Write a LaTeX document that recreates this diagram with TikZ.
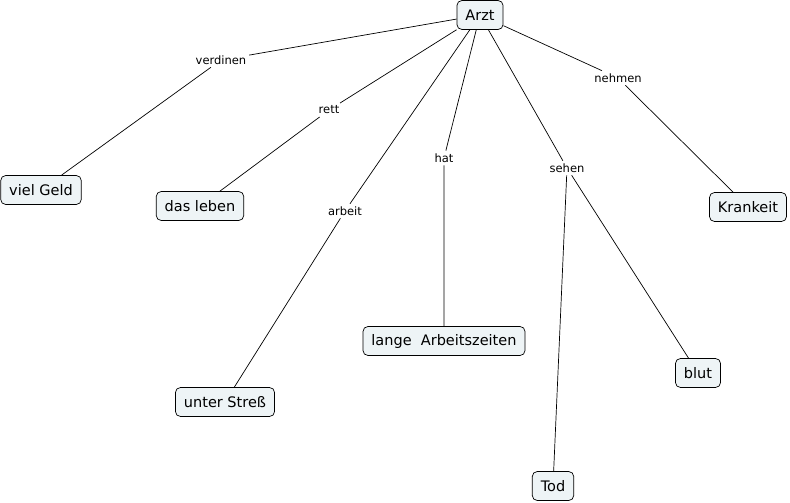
\documentclass[tikz,border=0pt]{standalone}
\usepackage{fontspec}
\setmainfont{DejaVu Sans}
\usetikzlibrary{positioning}

\definecolor{conceptfill}{RGB}{238,244,246}

\begin{document}
\begin{tikzpicture}[x=1pt,y=-1pt,line width=0.7pt,
  concept/.style={draw,rounded corners=5pt,fill=conceptfill,font=\fontsize{14.5}{17}\selectfont,
    minimum height=29pt,inner xsep=8.5pt},
  link/.style={fill=white,font=\fontsize{11.5}{13}\selectfont,inner sep=2.5pt}]
   \useasboundingbox (0,0) rectangle (790,503);
   % concepts
   \node[concept] (arzt)   at (480,15)  {Arzt};
   \node[concept] (geld)   at (41,190)  {viel Geld};
   \node[concept] (leben)  at (200,206) {das leben};
   \node[concept] (stress) at (225,402) {unter Streß};
   \node[concept] (zeiten) at (444,341) {lange\ \ Arbeitszeiten};
   \node[concept] (tod)    at (553,486) {Tod};
   \node[concept] (blut)   at (698,373) {blut};
   \node[concept] (krank)  at (748,207) {Krankeit};
   % linking phrases
   \node[link] (verdinen) at (221,60)  {verdinen};
   \node[link] (rett)     at (329,110) {rett};
   \node[link] (arbeit)   at (345,211) {arbeit};
   \node[link] (hat)      at (444,158) {hat};
   \node[link] (sehen)    at (567,168) {sehen};
   \node[link] (nehmen)   at (618,78)  {nehmen};
   % connections
   \draw (arzt) -- (verdinen) -- (geld);
   \draw (arzt) -- (rett)     -- (leben);
   \draw (arzt) -- (arbeit)   -- (stress);
   \draw (arzt) -- (hat)      -- (zeiten);
   \draw (arzt) -- (sehen)    -- (tod);
   \draw (sehen) -- (blut);
   \draw (arzt) -- (nehmen)   -- (krank);
\end{tikzpicture}
\end{document}
